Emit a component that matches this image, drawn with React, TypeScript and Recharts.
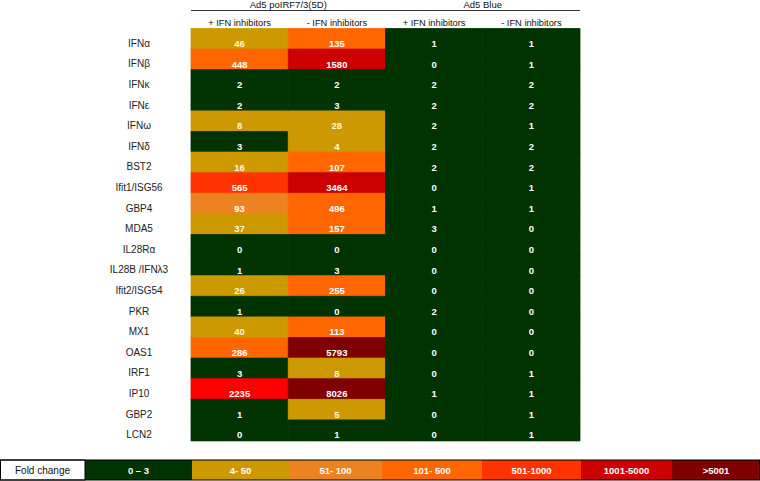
import React from 'react';
import { BarChart, Bar, XAxis, YAxis, Cell, LabelList } from 'recharts';

const genes = ['IFNα', 'IFNβ', 'IFNκ', 'IFNε', 'IFNω', 'IFNδ', 'BST2', 'Ifit1/ISG56', 'GBP4', 'MDA5', 'IL28Rα', 'IL28B /IFNλ3', 'Ifit2/ISG54', 'PKR', 'MX1', 'OAS1', 'IRF1', 'IP10', 'GBP2', 'LCN2'];
const polPlus = [46, 448, 2, 2, 8, 3, 16, 565, 93, 37, 0, 1, 26, 1, 40, 286, 3, 2235, 1, 0];
const polMinus = [135, 1580, 2, 3, 28, 4, 107, 3464, 496, 157, 0, 3, 255, 0, 113, 5793, 8, 8026, 5, 1];
const bluePlus = [1, 0, 2, 2, 2, 2, 2, 0, 1, 3, 0, 0, 0, 2, 0, 0, 0, 1, 0, 0];
const blueMinus = [1, 1, 2, 2, 1, 2, 2, 1, 1, 0, 0, 0, 0, 0, 0, 0, 1, 1, 1, 1];

const groupLabels = ['Ad5 poIRF7/3(5D)', 'Ad5 Blue'];
const columnLabels = ['+ IFN inhibitors', '- IFN inhibitors', '+ IFN inhibitors', '- IFN inhibitors'];
const legendTitle = 'Fold change';
const legendLabels = ['0 – 3', '4- 50', '51- 100', '101- 500', '501-1000', '1001-5000', '>5001'];
const legendUpper = [3, 50, 100, 500, 1000, 5000, Infinity];
const legendColors = ['#003300', '#CC9900', '#EC8320', '#FF6600', '#FF3300', '#CC0000', '#800000'];

const FONT = '"Liberation Sans", Arial, sans-serif';

const colorFor = (v: number, gene?: string) => {
  if (gene === 'IP10' && v === 2235) return '#FF0000';
  const i = legendUpper.findIndex((u) => v <= u);
  return legendColors[i];
};

const keys = ['v0', 'v1', 'v2', 'v3'];
const data = genes.map((gene, i) => ({
  gene,
  v0: polPlus[i],
  v1: polMinus[i],
  v2: bluePlus[i],
  v3: blueMinus[i],
}));

const W = 760;
const H = 481;
const M = { top: 28.5, right: 180, bottom: 40.5, left: 0 };
const YW = 191;
const plotW = W - YW - M.right;
const colW = plotW / 4;

const GeneTick = (props: any) => {
  const { y, payload } = props;
  return (
    <text x={139} y={y + 4.5} textAnchor="middle" dominantBaseline="central" fontSize={10} fill="#222" fontFamily={FONT}>
      {payload.value}
    </text>
  );
};

const makeLabel = (key: string) => (props: any) => {
  const { x, y, width, height, value } = props;
  const bg = colorFor(value);
  return (
    <text
      x={x + width / 2}
      y={y + height / 2 + 4.5}
      textAnchor="middle"
      dominantBaseline="central"
      fontSize={9.5}
      fontWeight="bold"
      fill={bg === '#CC9900' ? '#FFF8DC' : '#FFFFFF'}
      fontFamily={FONT}
    >
      {value}
    </text>
  );
};

const legendWidths = [85, 107, 97, 93, 100, 99, 91, 88];

export default function App() {
  let lx = 0;
  const legendCells = legendWidths.map((w) => {
    const x0 = lx;
    lx += w;
    return { x: x0, w };
  });
  return (
    <div style={{ position: 'absolute', left: 0, top: 0, width: W, height: H, background: '#fff' }}>
      <BarChart
        width={W}
        height={H}
        data={data}
        layout="vertical"
        margin={M}
        barCategoryGap={0}
      >
        <XAxis type="number" domain={[0, 4]} hide />
        <YAxis
          type="category"
          dataKey="gene"
          width={YW}
          axisLine={false}
          tickLine={false}
          tick={<GeneTick />}
          interval={0}
        />
        {keys.map((k) => (
          <Bar key={k} dataKey={() => 1} stackId="s" isAnimationActive={false}>
            {data.map((row: any, i) => {
              const c = colorFor(row[k], row.gene);
              return <Cell key={i} fill={c} stroke={c} strokeWidth={0.8} />;
            })}
            <LabelList dataKey={k} content={makeLabel(k)} />
          </Bar>
        ))}
      </BarChart>
      <svg width={W} height={H} style={{ position: 'absolute', left: 0, top: 0, pointerEvents: 'none' }}>
        <g fontFamily={FONT}>
          <text x={YW + colW} y={8} textAnchor="middle" fontSize={9.5} fill="#111">{groupLabels[0]}</text>
          <text x={YW + colW * 3} y={8} textAnchor="middle" fontSize={9.5} fill="#111">{groupLabels[1]}</text>
          <line x1={YW} x2={YW + plotW} y1={10.5} y2={10.5} stroke="#333" strokeWidth={1.2} />
          {columnLabels.map((c, i) => (
            <text key={i} x={YW + colW * (i + 0.5)} y={26} textAnchor="middle" fontSize={9.3} fill="#111">{c}</text>
          ))}
          {legendCells.map((c, i) => (
            <g key={i}>
              <rect x={c.x} y={460} width={c.w + (i < legendCells.length - 1 ? 0.5 : 0)} height={20} fill={i === 0 ? '#FFFFFF' : legendColors[i - 1]} />
              <text
                x={c.x + c.w / 2}
                y={470.5}
                textAnchor="middle"
                dominantBaseline="central"
                fontSize={i === 0 ? 10 : 9.5}
                fontWeight={i === 0 ? 'normal' : 'bold'}
                fill={i === 0 ? '#111' : '#FFFFFF'}
              >
                {i === 0 ? legendTitle : legendLabels[i - 1]}
              </text>
            </g>
          ))}
          <rect x={0.5} y={460} width={W - 1} height={20} fill="none" stroke="#000" strokeWidth={1} />
          <rect x={0.5} y={460} width={84.5} height={20} fill="none" stroke="#000" strokeWidth={1} />
        </g>
      </svg>
    </div>
  );
}
